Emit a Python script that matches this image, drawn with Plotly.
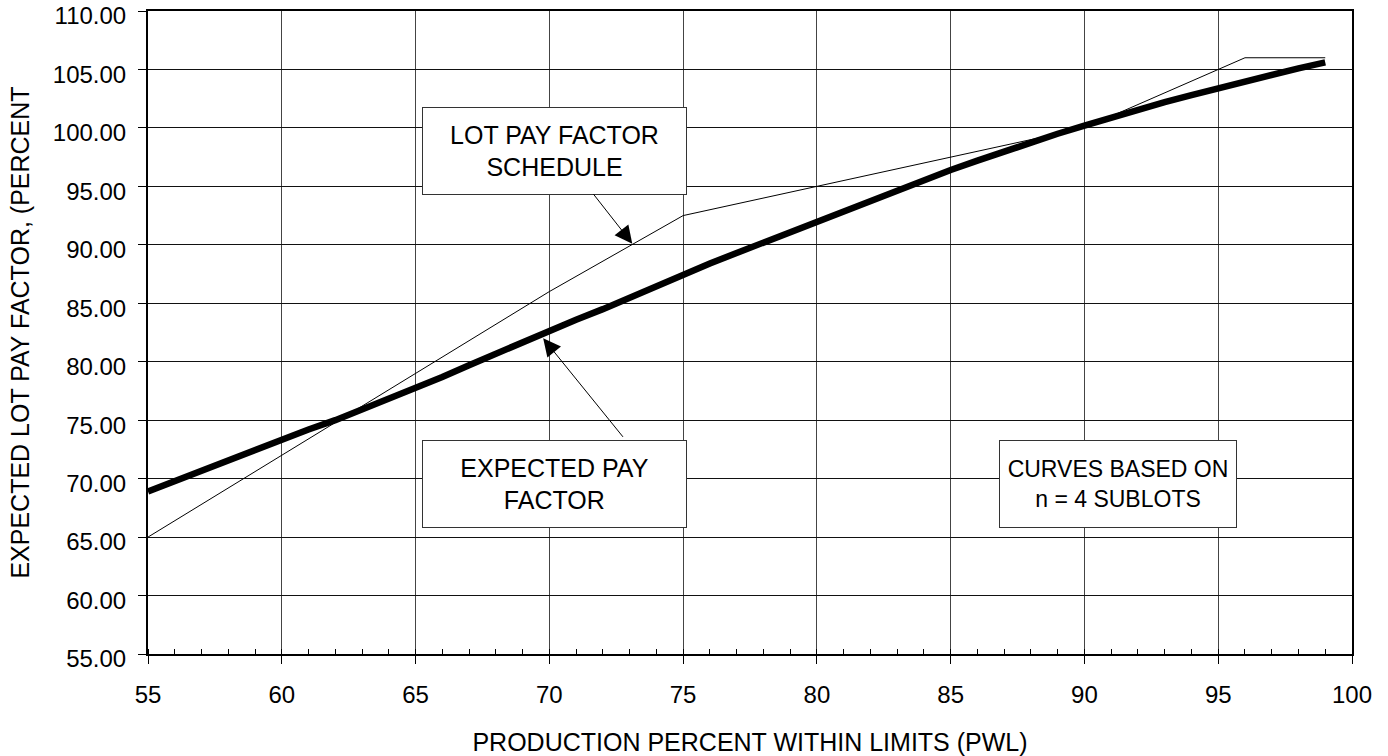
import plotly.graph_objects as go

# Lot pay factor schedule (thin line)
schedule_pwl = [55, 70, 75, 90, 96, 99]
schedule_pf = [65.0, 86.0, 92.5, 100.0, 106.0, 106.0]

# Expected pay factor curve (thick line), n = 4 sublots
expected_pwl = list(range(55, 100))
expected_pf = [68.9, 69.8, 70.7, 71.5, 72.4, 73.3, 74.2, 75.0, 75.9, 76.8,
               77.7, 78.7, 79.7, 80.7, 81.7, 82.7, 83.6, 84.5, 85.5, 86.4,
               87.4, 88.4, 89.3, 90.2, 91.1, 92.0, 92.9, 93.8, 94.7, 95.5,
               96.4, 97.2, 98.0, 98.8, 99.5, 100.2, 100.9, 101.6, 102.2, 102.8,
               103.4, 104.0, 104.6, 105.1, 105.6]

x_ticks = [55, 60, 65, 70, 75, 80, 85, 90, 95, 100]
y_ticks = [55, 60, 65, 70, 75, 80, 85, 90, 95, 100, 105, 110]

FONT = "Liberation Sans, Arial, sans-serif"

fig = go.Figure()
fig.add_trace(go.Scatter(x=schedule_pwl, y=schedule_pf, mode="lines",
                         line=dict(color="black", width=1), showlegend=False,
                         hoverinfo="skip"))
fig.add_trace(go.Scatter(x=expected_pwl, y=expected_pf, mode="lines",
                         line=dict(color="black", width=6.5), showlegend=False,
                         hoverinfo="skip"))

box_style = dict(showarrow=False, bgcolor="white", bordercolor="#333333",
                 borderwidth=1, borderpad=0, xref="x", yref="y")
fig.add_annotation(text="LOT PAY FACTOR<br>SCHEDULE", x=70.19, y=98.03,
                   width=263, height=86,
                   font=dict(family=FONT, size=25, color="black"), **box_style)
fig.add_annotation(text="EXPECTED PAY<br>FACTOR", x=70.19, y=69.56,
                   width=263, height=86,
                   font=dict(family=FONT, size=25, color="black"), **box_style)
fig.add_annotation(text="CURVES BASED ON<br>n = 4 SUBLOTS", x=91.25, y=69.55,
                   width=236, height=86,
                   font=dict(family=FONT, size=23, color="black"), **box_style)

arrow_style = dict(text="", showarrow=True, arrowhead=2, arrowsize=3.5,
                   arrowwidth=1, arrowcolor="black", xref="x", yref="y",
                   axref="pixel", ayref="pixel", standoff=0)
fig.add_annotation(x=73.1, y=90.1, ax=-40, ay=-51, **arrow_style)
fig.add_annotation(x=69.77, y=82.0, ax=81, ay=100, **arrow_style)

fig.update_layout(
    width=1388, height=756,
    margin=dict(l=148, r=36, t=11, b=102, autoexpand=False),
    paper_bgcolor="white", plot_bgcolor="white",
    font=dict(family=FONT, size=24, color="black"),
)
fig.update_xaxes(
    range=[55, 100], tickvals=x_ticks, ticktext=[str(v) for v in x_ticks],
    showgrid=True, gridcolor="#444444", gridwidth=1,
    showline=True, linecolor="black", linewidth=2, mirror=True,
    ticks="outside", ticklen=8, tickcolor="black", tickwidth=1,
    ticklabelstandoff=10, ticklabeloverflow="allow",
    minor=dict(ticks="inside", ticklen=5, dtick=1, tick0=55, tickcolor="black",
               showgrid=False),
    zeroline=False,
    title=dict(text="PRODUCTION PERCENT WITHIN LIMITS (PWL)",
               font=dict(family=FONT, size=25), standoff=45),
    tickfont=dict(family=FONT, size=24),
)
fig.update_yaxes(
    range=[55, 110], tickvals=y_ticks, ticktext=[f"{v:.2f}" for v in y_ticks],
    showgrid=True, gridcolor="#111111", gridwidth=1,
    showline=True, linecolor="black", linewidth=2, mirror=True,
    ticks="outside", ticklen=8, tickcolor="black", tickwidth=1,
    ticklabelstandoff=7, ticklabelshift=5, ticklabeloverflow="allow",
    zeroline=False,
    title=dict(text="EXPECTED LOT PAY FACTOR, (PERCENT",
               font=dict(family=FONT, size=25), standoff=16),
    tickfont=dict(family=FONT, size=24),
)

# remove the default 8px page margin so the figure fills the window exactly
fig.write_html("out.html", config={"displayModeBar": False},
               post_script="document.body.style.margin='0';document.body.style.overflow='hidden';")
